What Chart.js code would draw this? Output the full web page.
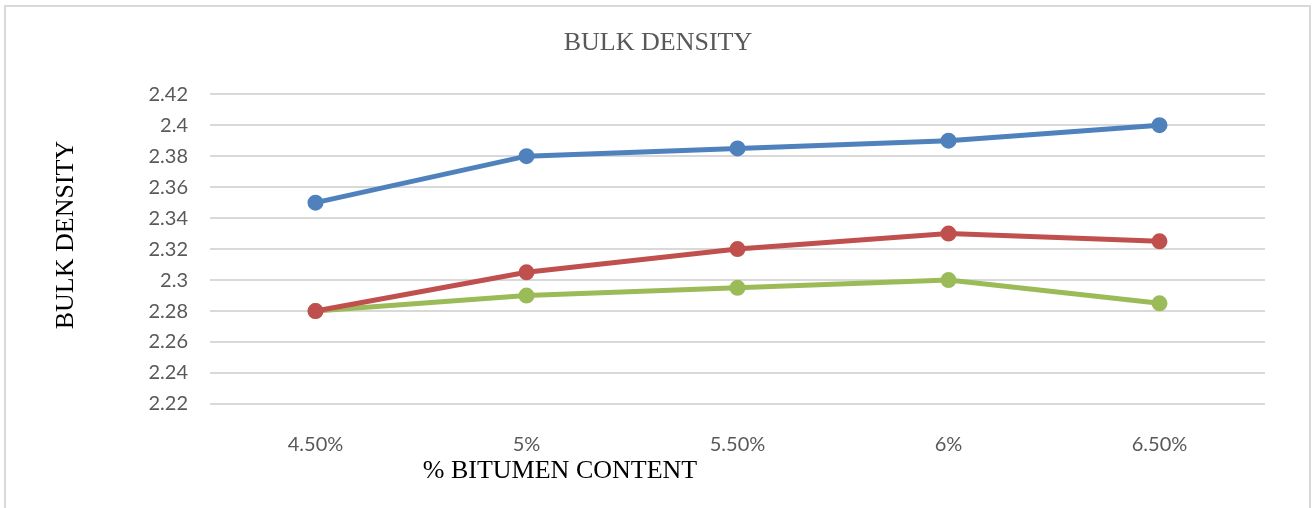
<!DOCTYPE html>
<html>
<head>
<meta charset="utf-8">
<script src="https://cdn.jsdelivr.net/npm/chart.js@4"></script>
<style>
  html, body { margin: 0; padding: 0; background: #fff; }
  #wrap { position: relative; width: 1312px; height: 508px; }
  #frame {
    position: absolute; left: 4px; top: 5px; width: 1303px; height: 520px;
    border: 2px solid #d9d9d9; pointer-events: none;
  }
  canvas { position: absolute; left: 0; top: 0; }
</style>
</head>
<body>
<div id="wrap">
  <canvas id="chart" width="1312" height="508"></canvas>
  <div id="frame"></div>
</div>
<script>
// bitumen content categories
const labels = ["4.50%", "5%", "5.50%", "6%", "6.50%"];

// bulk density series
const blueSeries = [2.35, 2.38, 2.385, 2.39, 2.40];
const redSeries = [2.28, 2.305, 2.32, 2.33, 2.325];
const greenSeries = [2.28, 2.29, 2.295, 2.30, 2.285];

// y axis ticks
const yTicks = [2.22, 2.24, 2.26, 2.28, 2.3, 2.32, 2.34, 2.36, 2.38, 2.4, 2.42];

const serif = '"Liberation Serif", "Times New Roman", serif';
const sans = 'Lato, "Liberation Sans", sans-serif';

function series(data, color) {
  return {
    data,
    borderColor: color,
    backgroundColor: color,
    borderWidth: 5,
    pointRadius: 5.5,
    pointHoverRadius: 5.5,
    tension: 0,
    fill: false
  };
}

// axis titles are not centred on the plot in the original, so draw them by hand
const axisTitlePlugin = {
  id: "axisTitles",
  afterDraw(chart) {
    const ctx = chart.ctx;
    ctx.save();
    ctx.font = "26px " + serif;
    ctx.fillStyle = "#000";
    ctx.textAlign = "center";
    ctx.textBaseline = "middle";
    ctx.fillText("% BITUMEN CONTENT", 560, 471);
    ctx.translate(66, 235);
    ctx.rotate(-Math.PI / 2);
    ctx.fillText("BULK DENSITY", 0, 0);
    ctx.restore();
  }
};

new Chart(document.getElementById("chart"), {
  type: "line",
  data: {
    labels,
    datasets: [
      series(blueSeries, "#4f81bd"),
      series(redSeries, "#c0504d"),
      series(greenSeries, "#9bbb59")
    ]
  },
  options: {
    responsive: false,
    animation: false,
    layout: { padding: { left: 51, right: 47, top: 0, bottom: 0 } },
    plugins: {
      legend: { display: false },
      tooltip: { enabled: false },
      title: {
        display: true,
        text: "BULK DENSITY",
        color: "#595959",
        font: { family: serif, size: 26, weight: "normal" },
        padding: { top: 28, bottom: 35 }
      }
    },
    scales: {
      x: {
        offset: true,
        grid: { display: false },
        border: { display: false },
        ticks: {
          color: "#595959",
          font: { family: sans, size: 20 },
          padding: 21,
          maxRotation: 0
        },
        afterFit(scale) { scale.height = 104; }
      },
      y: {
        min: 2.22,
        max: 2.42,
        afterBuildTicks(scale) {
          scale.ticks = yTicks.map(v => ({ value: v }));
        },
        grid: { color: "#d9d9d9", lineWidth: 2, drawTicks: false },
        border: { display: false },
        ticks: {
          color: "#595959",
          font: { family: sans, size: 20 },
          padding: 22,
          callback: v => String(Math.round(v * 100) / 100)
        },
        afterFit(scale) { scale.width = 159; }
      }
    }
  },
  plugins: [axisTitlePlugin]
});
</script>
</body>
</html>
